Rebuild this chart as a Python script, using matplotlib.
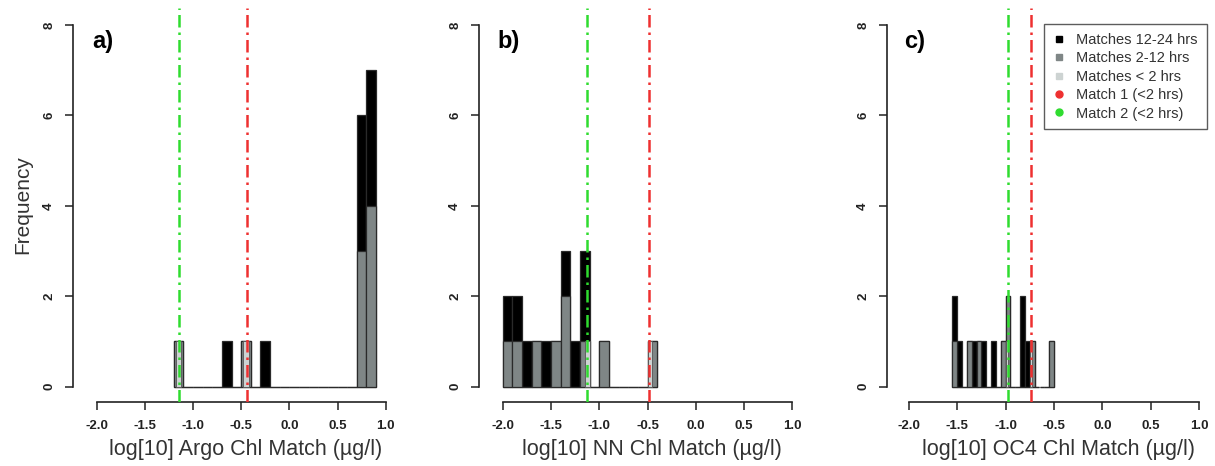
import numpy as np
import matplotlib
matplotlib.use("Agg")
import matplotlib.pyplot as plt
from matplotlib.lines import Line2D
from matplotlib.transforms import blended_transform_factory

plt.rcParams["font.family"] = ["Liberation Sans", "DejaVu Sans"]

# histogram counts per bin: all matches (<24 h) and matches within 12 h
argo_start, argo_width = -1.2, 0.1
argo_total = [1, 0, 0, 0, 0, 1, 0, 1, 0, 1, 0, 0, 0, 0, 0, 0, 0, 0, 0, 6, 7]
argo_12h = [1, 0, 0, 0, 0, 0, 0, 1, 0, 0, 0, 0, 0, 0, 0, 0, 0, 0, 0, 3, 4]

nn_start, nn_width = -2.0, 0.1
nn_total = [2, 2, 1, 1, 1, 1, 3, 1, 3, 0, 1, 0, 0, 0, 0, 1]
nn_12h = [1, 1, 0, 1, 0, 1, 2, 0, 1, 0, 1, 0, 0, 0, 0, 1]

oc4_start, oc4_width = -1.55, 0.05
oc4_total = [2, 1, 0, 1, 1, 1, 1, 0, 1, 0, 1, 2, 0, 0, 2, 1, 1, 0, 0, 0, 1]
oc4_12h = [1, 0, 0, 1, 0, 1, 0, 0, 0, 0, 1, 2, 0, 0, 0, 0, 1, 0, 0, 0, 1]

# matches within 2 h (bin edges and counts)
argo_2h_edges = [(-1.18, -1.12), (-0.48, -0.42)]
nn_2h_edges = [(-1.15, -1.10), (-0.50, -0.45)]
oc4_2h_edges = [(-1.00, -0.975), (-0.75, -0.725)]
counts_2h = [1, 1]

# log10 chl of the two closest matches
argo_match1, argo_match2 = -0.443, -1.145
nn_match1, nn_match2 = -0.48, -1.13
oc4_match1, oc4_match2 = -0.74, -0.98

panel_tags = ["a)", "b)", "c)"]
xlabels = [
    "log[10] Argo Chl Match (µg/l)",
    "log[10] NN Chl Match (µg/l)",
    "log[10] OC4 Chl Match (µg/l)",
]
xticks = [-2.0, -1.5, -1.0, -0.5, 0.0, 0.5, 1.0]
xtick_labels = ["-2.0", "-1.5", "-1.0", "-0.5", "0.0", "0.5", "1.0"]
yticks = [0, 2, 4, 6, 8]
ytick_labels = ["0", "2", "4", "6", "8"]
legend_labels = [
    "Matches 12-24 hrs",
    "Matches 2-12 hrs",
    "Matches < 2 hrs",
    "Match 1 (<2 hrs)",
    "Match 2 (<2 hrs)",
]

BLACK = "#000000"
GREY = "#7f8686"
LIGHT = "#cdd3d2"
RED = "#ee3030"
GREEN = "#2fdc2f"
EDGE = "#2a2a2a"
TEXT = "#333333"

W, H = 1215, 466
# pixel layout of each panel: y-axis line, x=-2 and x=1 positions
PANEL_PX = [(73.3, 96.7, 385.7), (479.3, 502.7, 792.3), (887.3, 909.0, 1199.0)]
Y0_PX, Y8_PX, XAXIS_PX, TOP_PX = 386.7, 25.0, 401.7, 8.0
XLABEL_PX = 450.0


def draw_hist(ax, start, width, total, within_12h, edges_2h):
    n = len(total)
    lefts = start + width * np.arange(n)
    ax.bar(lefts, total, width=width, align="edge", color=BLACK,
           edgecolor=EDGE, linewidth=0.9, zorder=2)
    ax.bar(lefts, within_12h, width=width, align="edge", color=GREY,
           edgecolor=EDGE, linewidth=0.9, zorder=3)
    for (lo, hi), c in zip(edges_2h, counts_2h):
        ax.bar(lo, c, width=hi - lo, align="edge", color=LIGHT,
               edgecolor="#555555", linewidth=0.6, zorder=4)


def style_axes(ax, px):
    x0, xm2, xp1 = px
    s = (xp1 - xm2) / 3.0
    sy = (Y0_PX - Y8_PX) / 8.0
    ax.set_xlim(-2 - (xm2 - x0) / s, 1 + 12 / s)
    ax.set_ylim(-(XAXIS_PX - Y0_PX) / sy, 8 + (Y8_PX - TOP_PX) / sy)
    for side in ("top", "right"):
        ax.spines[side].set_visible(False)
    ax.spines["left"].set_bounds(0, 8)
    ax.spines["bottom"].set_bounds(-2, 1)
    for side in ("left", "bottom"):
        ax.spines[side].set_linewidth(1.2)
        ax.spines[side].set_color("#222222")
    ax.set_xticks(xticks)
    ax.set_xticklabels(xtick_labels, fontsize=9.5, fontweight="bold",
                       color="#222222")
    ax.set_yticks(yticks)
    ax.set_yticklabels(ytick_labels, fontsize=9.5, fontweight="bold",
                       rotation=90, va="center", color="#222222")
    ax.tick_params(direction="out", length=6, width=1.1, color="#222222")
    ax.tick_params(axis="x", pad=7)
    ax.tick_params(axis="y", pad=7)
    ax.patch.set_alpha(0)


fig = plt.figure(figsize=(W / 100, H / 100), dpi=100)

panels = [
    (argo_start, argo_width, argo_total, argo_12h, argo_2h_edges, argo_match1, argo_match2),
    (nn_start, nn_width, nn_total, nn_12h, nn_2h_edges, nn_match1, nn_match2),
    (oc4_start, oc4_width, oc4_total, oc4_12h, oc4_2h_edges, oc4_match1, oc4_match2),
]

axes_height_px = XAXIS_PX - TOP_PX
for i, (start, width, total, w12, e2, m1, m2) in enumerate(panels):
    x0, xm2, xp1 = PANEL_PX[i]
    left = x0 / W
    right = (xp1 + 12) / W
    bottom = 1 - XAXIS_PX / H
    top = 1 - TOP_PX / H
    ax = fig.add_axes([left, bottom, right - left, top - bottom])
    draw_hist(ax, start, width, total, w12, e2)
    ax.axvline(m2, color=GREEN, lw=1.8, ls=(0, (5, 2, 1, 2)), zorder=5)
    ax.axvline(m1, color=RED, lw=1.8, ls=(0, (5, 2, 1, 2)), zorder=5)
    style_axes(ax, PANEL_PX[i])
    ax.text(-2.05, 7.63, panel_tags[i], fontsize=17, fontweight="bold",
            ha="left", va="center")
    ax.set_xlabel(xlabels[i], fontsize=15.5, color=TEXT, va="center")
    ax.xaxis.set_label_coords(-0.45, -(XLABEL_PX - XAXIS_PX) / axes_height_px,
                              transform=blended_transform_factory(ax.transData, ax.transAxes))
    if i == 0:
        ax.set_ylabel("Frequency", fontsize=15, color=TEXT, labelpad=8)
    if i == 2:
        handles = [
            Line2D([], [], ls="none", marker="s", ms=5, color=BLACK),
            Line2D([], [], ls="none", marker="s", ms=5, color=GREY),
            Line2D([], [], ls="none", marker="s", ms=5, color=LIGHT),
            Line2D([], [], ls="none", marker="o", ms=5, color=RED),
            Line2D([], [], ls="none", marker="o", ms=5, color=GREEN),
        ]
        leg = fig.legend(handles, legend_labels, loc="upper right",
                         bbox_to_anchor=(1206.7 / W, 1 - 24.3 / H),
                         borderaxespad=0, fontsize=10.5, frameon=True,
                         fancybox=False, edgecolor=TEXT, handlelength=0.8,
                         handletextpad=0.8, borderpad=0.6, labelspacing=0.3)
        leg.get_frame().set_linewidth(1.0)
        for t in leg.get_texts():
            t.set_color(TEXT)

fig.savefig("out.png", dpi=100)
